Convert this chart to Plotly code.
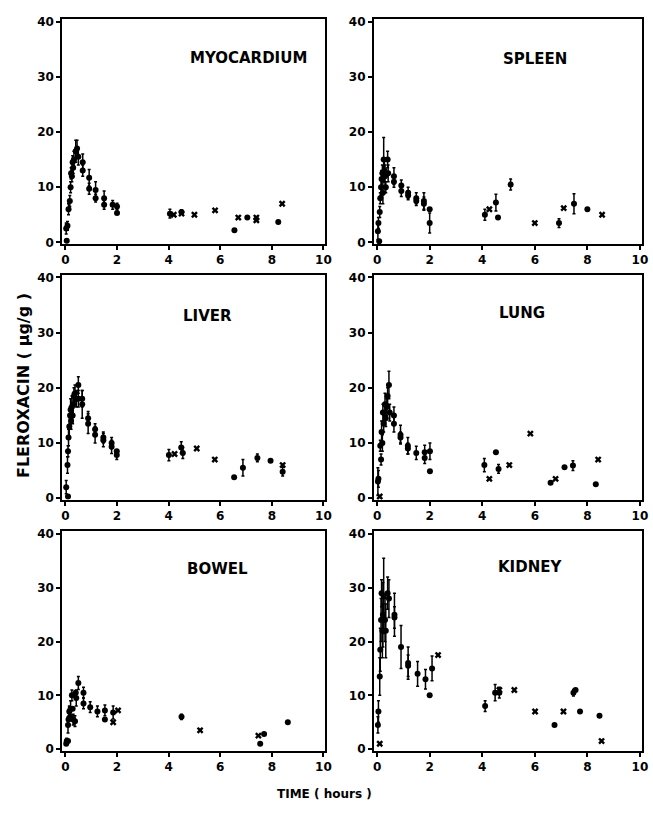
import plotly.graph_objects as go

# ---------------- data (hours, µg/g) ----------------
organs = ["MYOCARDIUM", "SPLEEN", "LIVER", "LUNG", "BOWEL", "KIDNEY"]
x_ticks = [0, 2, 4, 6, 8, 10]
y_ticks = [0, 10, 20, 30, 40]

# MYOCARDIUM
myo_t = [0.03, 0.08, 0.12, 0.17, 0.20, 0.22, 0.25, 0.28, 0.30, 0.33, 0.40, 0.45, 0.50, 0.67, 0.67, 0.92, 0.92, 1.17, 1.17, 1.50, 1.50, 1.83, 2.00, 4.05, 4.50]
myo_mean = [2.5, 3.0, 6.0, 7.5, 10.0, 12.5, 12.0, 14.5, 13.5, 15.0, 16.5, 17.0, 15.5, 14.5, 13.0, 11.7, 9.7, 9.5, 8.0, 8.0, 6.8, 6.8, 6.5, 5.2, 5.5]
myo_sd = [1.0, 0.8, 1.0, 1.0, 1.0, 1.0, 1.0, 1.2, 1.0, 1.5, 2.0, 1.5, 1.5, 1.5, 1.0, 1.5, 1.0, 1.5, 0.7, 1.3, 0.8, 0.8, 0.6, 0.8, 0.4]
myo_dot_t = [0.05, 2.00, 6.55, 7.05, 8.25]
myo_dot_v = [0.3, 5.3, 2.2, 4.5, 3.7]
myo_x_t = [4.20, 4.50, 5.00, 5.80, 6.70, 7.40, 7.40, 8.40]
myo_x_v = [5.0, 5.2, 5.0, 5.8, 4.5, 4.5, 4.0, 7.0]

# SPLEEN
spl_t = [0.03, 0.05, 0.10, 0.12, 0.15, 0.17, 0.20, 0.22, 0.25, 0.28, 0.30, 0.33, 0.40, 0.42, 0.64, 0.64, 0.92, 0.92, 1.18, 1.18, 1.49, 1.49, 1.78, 1.78, 2.00, 4.10, 4.52, 5.08, 6.92, 7.49]
spl_mean = [2.0, 3.5, 5.5, 8.0, 10.0, 11.5, 12.5, 9.0, 15.0, 13.0, 12.0, 10.0, 15.0, 12.5, 12.0, 11.0, 10.3, 9.3, 9.0, 8.5, 8.0, 7.5, 7.5, 7.0, 3.5, 5.0, 7.2, 10.5, 3.5, 7.0]
spl_sd = [1.5, 1.0, 1.0, 1.0, 1.5, 1.5, 1.5, 2.0, 4.0, 2.0, 2.0, 1.0, 1.5, 1.5, 1.5, 1.0, 1.0, 1.0, 1.0, 0.8, 1.0, 0.8, 1.5, 1.2, 1.8, 1.0, 1.5, 1.0, 0.8, 1.8]
spl_dot_t = [0.08, 2.00, 4.60, 8.00]
spl_dot_v = [0.2, 6.0, 4.5, 6.0]
spl_x_t = [4.27, 6.00, 7.10, 8.56]
spl_x_v = [6.0, 3.5, 6.2, 5.0]

# LIVER
liv_t = [0.03, 0.08, 0.10, 0.12, 0.15, 0.18, 0.20, 0.22, 0.25, 0.28, 0.30, 0.33, 0.37, 0.42, 0.50, 0.50, 0.65, 0.65, 0.88, 0.88, 1.15, 1.15, 1.47, 1.47, 1.79, 1.79, 1.99, 4.01, 4.49, 4.55, 6.88, 7.44, 8.42]
liv_mean = [2.0, 6.0, 8.5, 11.0, 13.0, 15.0, 16.0, 14.0, 16.5, 15.0, 17.0, 18.5, 19.0, 18.0, 20.5, 18.0, 18.0, 17.0, 14.5, 13.5, 12.5, 11.5, 11.0, 10.5, 10.0, 9.3, 7.8, 7.8, 9.2, 8.2, 5.5, 7.3, 4.8]
liv_sd = [1.2, 1.5, 1.0, 1.5, 2.0, 1.5, 2.0, 1.5, 2.0, 1.5, 2.0, 1.5, 1.5, 1.5, 1.5, 1.5, 1.5, 2.5, 1.2, 1.8, 1.0, 1.5, 1.0, 1.2, 1.0, 1.2, 0.8, 1.0, 1.0, 1.0, 1.5, 0.7, 0.8]
liv_dot_t = [0.10, 1.99, 6.54, 7.95]
liv_dot_v = [0.3, 8.5, 3.8, 6.8]
liv_x_t = [4.23, 5.09, 5.79, 8.42]
liv_x_v = [8.0, 9.0, 7.0, 6.0]

# LUNG
lun_t = [0.03, 0.05, 0.12, 0.15, 0.17, 0.20, 0.22, 0.25, 0.30, 0.33, 0.37, 0.40, 0.45, 0.48, 0.64, 0.64, 0.89, 0.89, 1.17, 1.17, 1.49, 1.81, 1.81, 2.01, 4.08, 4.62, 7.45]
lun_mean = [3.0, 3.5, 9.5, 7.0, 12.0, 10.0, 15.5, 13.5, 17.0, 14.5, 16.5, 18.5, 20.5, 15.5, 15.0, 13.5, 11.5, 11.0, 9.5, 9.0, 8.2, 8.3, 7.3, 8.5, 6.0, 5.3, 5.9]
lun_sd = [2.5, 1.5, 1.0, 1.0, 2.0, 1.5, 1.5, 1.5, 2.0, 1.5, 1.5, 1.5, 2.5, 1.5, 1.5, 1.5, 1.7, 1.0, 1.5, 1.0, 1.2, 1.3, 1.0, 1.5, 1.2, 0.8, 0.9]
lun_dot_t = [2.01, 4.52, 6.60, 7.13, 8.32]
lun_dot_v = [4.9, 8.3, 2.8, 5.6, 2.5]
lun_x_t = [0.10, 4.27, 5.03, 5.83, 6.79, 8.41]
lun_x_v = [0.3, 3.5, 6.0, 11.7, 3.5, 7.0]

# BOWEL
bow_t = [0.05, 0.10, 0.15, 0.20, 0.25, 0.30, 0.37, 0.42, 0.50, 0.70, 0.70, 0.96, 1.24, 1.53, 1.85, 4.50]
bow_mean = [1.5, 4.5, 7.0, 7.5, 10.0, 5.5, 5.2, 9.5, 12.3, 10.5, 8.5, 7.8, 7.0, 7.2, 6.8, 6.0]
bow_sd = [0.5, 1.5, 1.0, 1.5, 1.0, 1.0, 1.0, 1.5, 1.2, 1.0, 1.0, 1.0, 1.0, 1.0, 1.2, 0.5]
bow_dot_t = [0.03, 0.10, 0.12, 0.18, 0.28, 0.40, 1.53, 7.55, 7.70, 8.62]
bow_dot_v = [1.0, 1.5, 5.5, 6.0, 7.5, 10.5, 5.5, 1.0, 2.8, 5.0]
bow_x_t = [1.85, 2.04, 5.22, 7.48]
bow_x_v = [5.0, 7.2, 3.5, 2.5]

# KIDNEY
kid_t = [0.03, 0.05, 0.10, 0.12, 0.15, 0.17, 0.20, 0.22, 0.25, 0.30, 0.33, 0.40, 0.45, 0.66, 0.66, 0.91, 1.18, 1.18, 1.54, 1.84, 2.09, 4.11, 4.49, 4.65, 7.47]
kid_mean = [4.5, 7.0, 13.5, 18.5, 24.0, 29.0, 22.0, 25.0, 28.5, 24.0, 22.0, 29.0, 28.0, 25.0, 24.5, 19.0, 16.0, 15.5, 14.0, 13.0, 15.0, 8.0, 10.5, 10.5, 10.5]
kid_sd = [1.5, 2.0, 3.5, 4.0, 4.0, 2.5, 5.0, 6.0, 7.0, 4.0, 5.0, 3.0, 3.5, 4.0, 2.0, 4.0, 3.0, 2.0, 2.3, 1.8, 2.3, 1.0, 1.5, 1.0, 0.6]
kid_dot_t = [2.00, 6.75, 7.72, 8.46, 7.55]
kid_dot_v = [10.0, 4.5, 7.0, 6.2, 11.0]
kid_x_t = [0.10, 2.32, 4.65, 5.22, 6.01, 7.09, 8.54]
kid_x_v = [1.0, 17.5, 11.0, 11.0, 7.0, 7.0, 1.5]

panels = [
    (myo_t, myo_mean, myo_sd, myo_dot_t, myo_dot_v, myo_x_t, myo_x_v),
    (spl_t, spl_mean, spl_sd, spl_dot_t, spl_dot_v, spl_x_t, spl_x_v),
    (liv_t, liv_mean, liv_sd, liv_dot_t, liv_dot_v, liv_x_t, liv_x_v),
    (lun_t, lun_mean, lun_sd, lun_dot_t, lun_dot_v, lun_x_t, lun_x_v),
    (bow_t, bow_mean, bow_sd, bow_dot_t, bow_dot_v, bow_x_t, bow_x_v),
    (kid_t, kid_mean, kid_sd, kid_dot_t, kid_dot_v, kid_x_t, kid_x_v),
]

# ---------------- layout geometry (pixels) ----------------
W, H = 653, 814
col_px = [(62, 328), (377, 648)]
row_px = [(15, 243), (274, 502), (534, 756)]
title_pos = [(7.1, 33.4), (6.0, 33.2), (5.5, 33.0), (5.5, 33.6), (5.9, 33.5), (5.8, 33.8)]

FONT = "DejaVu Sans"
fig = go.Figure()
layout = {}
for i, (t, m, sd, dt, dv, xt, xv) in enumerate(panels):
    r, c = divmod(i, 2)
    n = "" if i == 0 else str(i + 1)
    xa, ya = "x" + n, "y" + n
    fig.add_trace(go.Scatter(
        x=t, y=m, mode="markers", xaxis=xa, yaxis=ya, showlegend=False,
        marker=dict(symbol="circle", size=6, color="black"),
        error_y=dict(type="data", array=sd, color="black", thickness=1.5, width=1.5)))
    fig.add_trace(go.Scatter(
        x=dt, y=dv, mode="markers", xaxis=xa, yaxis=ya, showlegend=False,
        marker=dict(symbol="circle", size=6, color="black")))
    fig.add_trace(go.Scatter(
        x=xt, y=xv, mode="markers", xaxis=xa, yaxis=ya, showlegend=False,
        marker=dict(symbol="x", size=6, color="black")))
    x0, x1 = col_px[c]
    y0, y1 = row_px[r]
    axis_common = dict(showline=True, mirror=True, linecolor="black", linewidth=2,
                       ticks="outside", ticklen=4, tickwidth=1.5, tickcolor="black",
                       showgrid=False, zeroline=False,
                       tickfont=dict(family=FONT, size=12, color="black", weight="bold"))
    layout["xaxis" + n] = dict(axis_common, domain=[x0 / W, x1 / W], anchor=ya,
                               range=[-0.12, 10.08], tickvals=x_ticks,
                               ticktext=[str(v) for v in x_ticks])
    layout["yaxis" + n] = dict(axis_common, domain=[1 - y1 / H, 1 - y0 / H], anchor=xa,
                               range=[-0.3, 40.5], tickvals=y_ticks,
                               ticktext=[str(v) for v in y_ticks])
    tx, ty = title_pos[i]
    fig.add_annotation(x=tx, y=ty, xref=xa, yref=ya, text="<b>" + organs[i] + "</b>",
                       showarrow=False, font=dict(family=FONT, size=15, color="black"))

fig.add_annotation(x=22 / W, y=1 - 386 / H, xref="paper", yref="paper",
                   xanchor="center", yanchor="middle",
                   text="<b>FLEROXACIN ( μg/g )</b>", textangle=-90, showarrow=False,
                   font=dict(family=FONT, size=16, color="black"))
fig.add_annotation(x=327 / W, y=1 - 800 / H, xref="paper", yref="paper",
                   xanchor="center", yanchor="middle",
                   text="<b>TIME ( hours )</b>", showarrow=False,
                   font=dict(family=FONT, size=12, color="black"))

fig.update_layout(width=W, height=H, margin=dict(l=0, r=0, t=0, b=0),
                  paper_bgcolor="white", plot_bgcolor="white", **layout)
fig.write_html("out.html")
